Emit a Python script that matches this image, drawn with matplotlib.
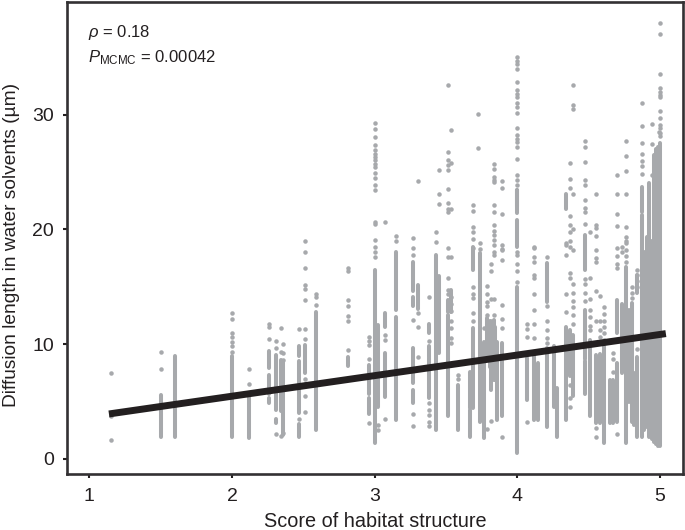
import matplotlib
matplotlib.use("Agg")
import matplotlib.pyplot as plt

plt.rcParams["font.family"] = ["Liberation Sans", "DejaVu Sans"]
plt.rcParams["mathtext.fontset"] = "custom"
plt.rcParams["mathtext.rm"] = "Liberation Sans"
plt.rcParams["mathtext.it"] = "Liberation Sans:italic"

# 单独的点: 每列一个 x, 一组 y
dot_x = [1.15, 1.5, 2.0, 2.12, 2.257, 2.31, 2.34, 2.36, 2.47, 2.51, 2.59, 2.81, 2.96,
         3.0, 3.02, 3.07, 3.15, 3.265, 3.3, 3.38, 3.43, 3.45, 3.51, 3.535, 3.58, 3.69, 3.72,
         3.735, 3.765, 3.79, 3.815, 3.835, 3.895, 4.0, 4.065, 4.118, 4.205, 4.34, 4.37, 4.39,
         4.47, 4.51, 4.55, 4.58, 4.605, 4.67, 4.7, 4.73, 4.76, 4.805, 4.84, 4.875, 4.94, 4.99, 5.0]
dot_y = [
    [7.5, 3.7, 1.65],
    [9.35, 7.8],
    [12.7, 12.2, 11.0, 10.6, 10.2, 9.8, 9.35],
    [7.8, 6.5],
    [11.8, 11.5, 10.45],
    [10.3, 9.7, 2.15],
    [11.4, 9.3, 2.0],
    [10.0, 9.2, 8.6, 2.3],
    [11.3, 3.46],
    [19.0, 18.0, 16.6, 15.15, 14.8, 13.85, 11.3, 10.45, 7.0, 6.5, 5.5, 4.1],
    [14.4, 14.1, 13.4],
    [16.6, 16.4, 13.85, 13.3, 12.45, 12.0, 9.45],
    [10.65, 10.3, 9.9, 8.7, 3.16],
    [29.3, 28.75, 28.07, 27.35, 26.9, 26.6, 26.3, 26.0, 25.7, 25.4, 24.9, 24.45, 23.9, 23.4,
     20.65, 20.5, 19.08, 18.5, 18.0, 17.6],
    [2.5, 3.0],
    [20.65, 10.8, 10.4, 3.48],
    [19.45, 19.0],
    [19.25, 18.4, 17.8, 12.1, 3.9, 2.87],
    [24.25, 12.7, 11.5, 8.9],
    [14.1, 10.3, 4.85, 4.27, 3.8, 3.25, 2.87],
    [19.74, 18.9],
    [25.17, 23.1, 22.2],
    [32.6, 26.77, 26.05, 25.6, 25.2, 23.5, 22.3, 21.8, 21.5, 18.35, 17.6, 15.8, 14.7, 14.4],
    [28.66, 25.75, 21.8, 17.6, 14.1, 13.5, 12.9, 12.0, 11.4, 10.5, 10.1],
    [7.3, 7.0],
    [22.15, 21.6, 20.2, 19.8, 19.2, 18.4, 15.0, 14.4, 14.0, 12.7, 12.0],
    [30.05, 27.06],
    [18.85, 18.3],
    [11.4],
    [15.1, 14.4, 13.7, 13.3, 12.5, 2.6],
    [17.0, 16.4, 13.9, 12.0, 3.3],
    [25.7, 25.3, 24.6, 24.3, 24.15, 22.1, 21.5, 20.4, 19.9, 19.5, 19.1, 18.6, 18.0, 17.8, 13.9, 12.5],
    [24.25, 23.6, 21.3, 18.6, 18.3, 18.2, 17.3, 13.4, 12.2, 11.4, 1.95],
    [35.05, 34.7, 34.4, 34.0, 32.8, 32.15, 31.8, 31.5, 31.0, 30.7, 30.1, 28.8, 28.2, 27.9, 27.65,
     27.15, 26.15, 24.7, 24.3, 23.9, 18.0, 17.8, 17.0, 16.4, 15.45],
    [11.8, 11.3, 10.6, 3.25],
    [18.5, 18.4, 17.6, 17.2, 16.0, 15.8, 14.4, 13.0, 11.8, 10.5],
    [17.6, 13.3, 12.05, 11.2, 10.5, 10.1],
    [18.8, 18.6, 17.8, 14.4, 12.8],
    [25.75, 24.35, 23.6, 21.2, 20.4, 19.8, 19.0, 18.5, 16.2, 15.8, 6.4, 5.3, 4.55],
    [32.6, 30.85, 30.5, 23.1, 20.0, 18.2, 15.2, 14.5, 13.8, 13.2, 12.5, 11.8],
    [27.7, 27.2, 25.9, 24.3, 23.9, 22.6, 21.9, 21.55, 20.47, 15.7, 15.2, 14.5, 13.8],
    [19.8, 15.8, 13.9, 13.0, 12.4, 11.6, 11.2],
    [23.1, 20.4, 20.1, 19.45, 18.2, 17.5, 17.2, 14.6, 12.0, 2.7, 1.95],
    [14.2, 12.0, 11.2, 10.6, 10.1],
    [13.2, 12.6, 12.0, 11.5, 11.0, 10.4],
    [9.2, 8.7, 7.6],
    [24.75, 23.05, 21.3, 20.3, 18.4, 17.7, 17.0, 16.6, 2.15],
    [18.5, 18.0],
    [27.7, 26.4, 25.1, 23.1, 20.2, 19.35, 19.0, 18.8, 18.2, 17.7, 17.2],
    [15.0, 14.5, 14.0],
    [16.5, 16.0, 15.5, 15.0, 9.6],
    [31.0, 29.0, 27.5, 26.6, 25.95, 25.55, 24.8],
    [29.2, 27.4, 24.7],
    [28.5],
    [38.0, 37.0, 33.5, 32.35, 32.0, 31.7, 31.5, 30.35, 29.7, 29.1, 28.8, 28.4, 28.1],
]

# 点太密的地方按连续的竖条读数
span_x = [1.5, 1.6, 2.0, 2.12, 2.257, 2.257, 2.257, 2.31, 2.31, 2.34, 2.36, 2.47, 2.47, 2.47,
          2.51, 2.59, 2.81, 2.96, 2.96, 3.0, 3.02, 3.07, 3.07, 3.15, 3.15, 3.265, 3.265,
          3.265, 3.265, 3.3, 3.38, 3.38, 3.38, 3.43, 3.45, 3.51, 3.51, 3.535, 3.58, 3.67, 3.67,
          3.69, 3.69, 3.735, 3.765, 3.79, 3.815, 3.835, 3.86, 3.895, 4.0, 4.0, 4.0, 4.0, 4.065,
          4.118, 4.145, 4.205, 4.205, 4.258, 4.28, 4.34, 4.34, 4.37, 4.39, 4.47, 4.47, 4.47, 4.51,
          4.55, 4.58, 4.605, 4.65, 4.67, 4.7, 4.7, 4.73, 4.76, 4.805, 4.84, 4.84, 4.875, 4.875,
          4.875, 4.905, 4.925, 4.925, 4.94, 4.955, 4.97, 4.985, 5.0, 3.805, 3.845, 4.78, 4.82, 4.89]
span_lo = [1.95, 1.9, 1.9, 1.8, 7.9, 5.66, 4.9, 4.27, 3.1, 4.2, 2.1, 8.95, 4.0, 1.9,
           7.5, 2.5, 8.1, 5.7, 3.9, 1.4, 4.5, 5.4, 11.5, 13.0, 3.4, 14.6, 13.3,
           6.6, 4.85, 13.1, 11.0, 8.9, 5.3, 2.5, 9.2, 3.7, 12.8, 12.8, 2.5, 4.4, 1.94,
           16.46, 4.4, 3.25, 1.8, 9.0, 6.0, 6.9, 3.4, 3.7, 21.4, 18.5, 0.5, 22.0, 5.1,
           3.4, 3.4, 13.7, 2.8, 4.55, 1.94, 21.8, 3.4, 7.2, 5.5, 16.5, 8.7, 5.7, 3.7,
           3.1, 3.1, 1.4, 3.1, 3.1, 10.95, 3.25, 7.5, 1.37, 3.25, 1.94, 14.5, 21.55, 12.1,
           1.94, 2.8, 1.94, 18.4, 1.7, 1.5, 1.3, 1.15, 1.1, 8.0, 6.9, 5.0, 3.0, 2.5]
span_hi = [5.57, 9.0, 9.0, 5.4, 9.4, 7.3, 5.3, 9.06, 3.46, 8.6, 8.5, 9.8, 8.5, 3.05,
           9.93, 12.8, 8.86, 8.2, 5.3, 16.46, 11.7, 9.2, 12.7, 18.06, 12.4, 17.2, 14.1,
           9.66, 6.0, 15.15, 11.8, 9.8, 8.8, 17.77, 15.9, 12.5, 13.85, 14.7, 6.45, 7.6, 4.27,
           18.5, 11.4, 17.9, 10.2, 12.3, 11.0, 12.1, 10.2, 10.1, 23.4, 20.8, 15.0, 23.4, 8.8,
           9.06, 8.4, 17.05, 9.7, 9.8, 6.2, 23.1, 11.5, 11.2, 10.8, 19.5, 13.0, 8.5, 10.4,
           9.06, 9.1, 9.8, 6.9, 6.9, 13.85, 8.36, 13.5, 16.75, 13.6, 8.9, 16.0, 23.7, 21.25,
           12.0, 19.35, 19.1, 24.0, 19.0, 26.5, 27.0, 27.2, 27.5, 12.0, 11.5, 13.0, 7.5, 18.0]

line_x = [1.137, 5.04]
line_y = [3.92, 10.92]

xtick_vals = [1, 2, 3, 4, 5]
ytick_vals = [0, 10, 20, 30]

text_col = "#231f20"
dot_col = "#a7a9ac"

fig = plt.figure(figsize=(6.85, 5.3), dpi=100)
ax = fig.add_axes([66.7 / 685, 1 - 474 / 530, 616 / 685, 472.5 / 530])

for x, ys in zip(dot_x, dot_y):
    ax.scatter([x] * len(ys), ys, s=10.5, color=dot_col, linewidths=0, zorder=2)
ax.vlines(span_x, span_lo, span_hi, color=dot_col, linewidth=2.9, capstyle="round", zorder=2)
ax.plot(line_x, line_y, color=text_col, linewidth=5, solid_capstyle="butt", zorder=3)

ax.set_xlim(0.841, 5.158)
ax.set_ylim(-1.31, 39.85)
ax.set_xticks(xtick_vals)
ax.set_yticks(ytick_vals)
ax.tick_params(length=3, width=1.5, labelsize=14, color=text_col, labelcolor=text_col)
ax.tick_params(axis="x", pad=7)
ax.tick_params(axis="y", pad=6)
for spine in ax.spines.values():
    spine.set_linewidth(1.9)
    spine.set_color("#333133")

ax.set_xlabel("Score of habitat structure", fontsize=14.3, color=text_col)
ax.set_ylabel("Diffusion length in water solvents (µm)", fontsize=13.8, color=text_col)
ax.xaxis.set_label_coords(0.501, -0.081)
ax.yaxis.set_label_coords(-0.076, 0.485)

ax.text(0.034, 0.925, r"$\mathit{\rho}$ = 0.18", transform=ax.transAxes, fontsize=12,
        color=text_col, va="baseline")
ax.text(0.034, 0.872, r"$\mathit{P}_{\mathrm{MCMC}}$ = 0.00042", transform=ax.transAxes, fontsize=12,
        color=text_col, va="baseline")

fig.savefig("out.png", dpi=100)
